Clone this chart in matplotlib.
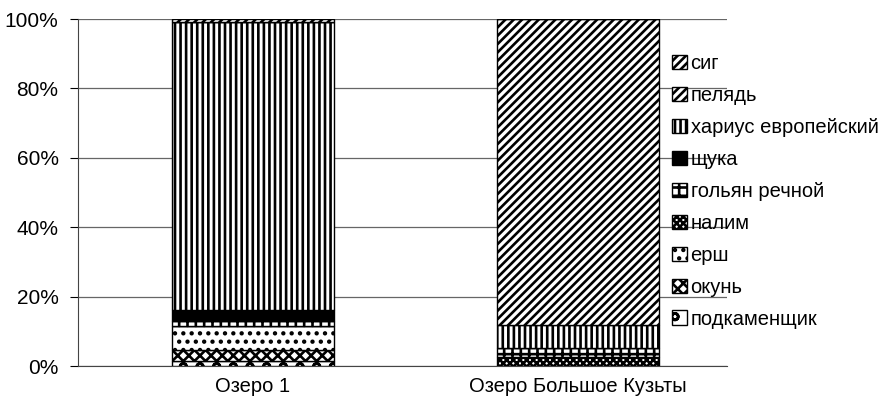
import matplotlib.pyplot as plt
import numpy as np
from matplotlib.ticker import PercentFormatter

plt.rcParams['font.family'] = ['Liberation Sans', 'DejaVu Sans']
plt.rcParams['hatch.linewidth'] = 1.9
plt.rcParams['hatch.color'] = 'black'

# data (percent of catch)
lakes = ["Озеро 1", "Озеро Большое Кузьты"]
species = ["подкаменщик", "окунь", "ерш", "налим", "гольян речной",
           "щука", "хариус европейский", "пелядь", "сиг"]
lake1 = [1.5, 3.0, 7.0, 0.0, 1.6, 3.0, 83.0, 0.0, 0.9]
lake2 = [0.0, 0.0, 0.0, 2.5, 2.7, 0.0, 6.6, 88.2, 0.0]

hatches = ["o", "xxx", "..", "xxxxx", "++", "", "|||", "////", "////"]
faces = ["white", "white", "white", "white", "white", "black", "white", "white", "white"]

fig = plt.figure(figsize=(8.93, 4.07), dpi=100)
ax = fig.add_axes([0.0873, 0.1007, 0.7267, 0.8526])

x = np.arange(len(lakes))
bottom = np.zeros(len(lakes))
handles = []
for i, name in enumerate(species):
    vals = np.array([lake1[i], lake2[i]])
    b = ax.bar(x, vals, 0.5, bottom=bottom, color=faces[i], hatch=hatches[i],
               edgecolor="black", linewidth=1.0, label=name, zorder=3)
    handles.append(b)
    bottom += vals

ax.set_xlim(-0.538, 1.459)
ax.set_ylim(0, 100)
ax.yaxis.set_major_formatter(PercentFormatter(decimals=0))
ax.set_yticks(np.arange(0, 101, 20))
ax.set_xticks(x)
ax.set_xticklabels(lakes)
ax.tick_params(axis="x", length=0, labelsize=14.5, pad=8)
ax.tick_params(axis="y", length=6, labelsize=15, direction="out", pad=8)
ax.grid(axis="y", color="#666666", linewidth=0.9, zorder=0)
for s in ["top", "right"]:
    ax.spines[s].set_visible(False)
ax.spines["left"].set_color("#444444")
ax.spines["bottom"].set_color("#444444")

fig.legend(handles[::-1], species[::-1], loc="upper left",
           bbox_to_anchor=(0.744, 0.886), frameon=False, fontsize=14.5,
           handlelength=0.7, handleheight=0.7, handletextpad=0.2,
           labelspacing=0.64, borderaxespad=0)

fig.savefig("out.png", dpi=100)
